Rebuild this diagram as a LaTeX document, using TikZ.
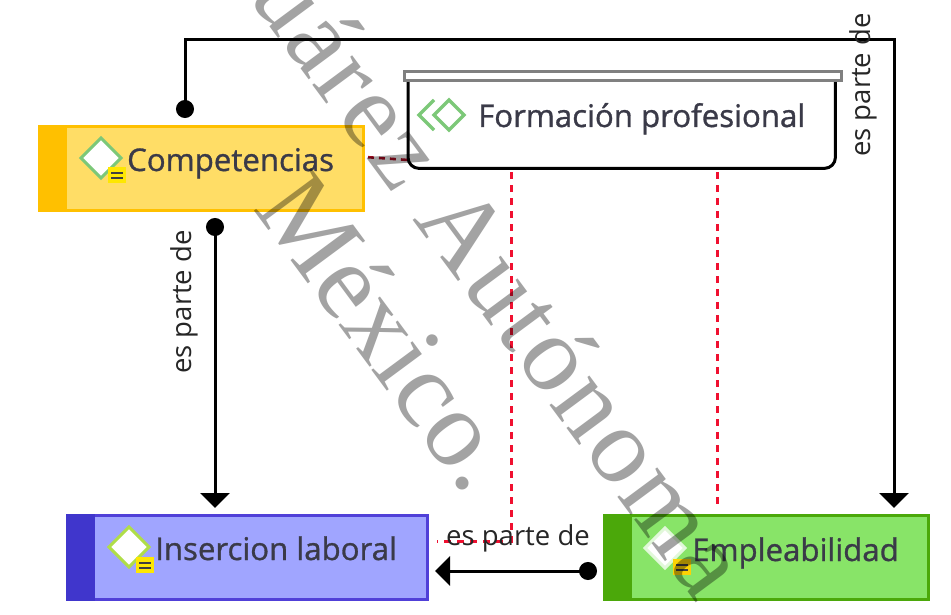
\documentclass[tikz,border=0pt]{standalone}
\usepackage{fontspec}
\setmainfont{Open Sans}
\newfontfamily\wmfont{Liberation Serif}
\newfontfamily\wmfontsp[LetterSpace=3]{Liberation Serif}
\newfontfamily\titlefont[FakeBold=1]{Open Sans}
\usetikzlibrary{arrows.meta,calc}
\definecolor{compfill}{HTML}{FFDD66}
\definecolor{compband}{HTML}{FFC000}
\definecolor{insfill}{HTML}{A0A5FF}
\definecolor{insband}{HTML}{4036CC}
\definecolor{insline}{HTML}{5040D8}
\definecolor{empfill}{HTML}{88E468}
\definecolor{empband}{HTML}{4BA80A}
\definecolor{titlecol}{HTML}{3A3A48}
\definecolor{relred}{HTML}{F01030}
\definecolor{diamondgreen}{HTML}{7CC878}
\tikzset{
  x=1pt,y=-1pt,
  concept/.style={draw=#1,line width=3pt,minimum height=84pt,inner sep=0pt,anchor=north west},
  band/.style={fill=#1,draw=none,inner sep=0pt,outer sep=0pt,minimum height=87pt,anchor=north west,minimum width=29pt},
  title/.style={font=\titlefont\fontsize{31.2}{34}\selectfont,text=titlecol,anchor=base west,inner sep=0pt},
  rel/.style={draw=black,line width=3pt,{Circle[length=18pt,width=18pt]}-{Triangle[length=15pt,width=29pt]},shorten >=6pt},
  linkdash/.style={draw=relred,line width=3pt,dash pattern=on 7pt off 6pt},
  rellabel/.style={font=\fontsize{27.5}{30}\selectfont,text=black!85,inner sep=0pt},
  wm/.style={text=black!36,rotate=-53.5,inner sep=0pt,blend mode=multiply},
}
\newcommand{\conceptmark}[3]{%
  \draw[fill=white,draw=#3,line width=3pt] (#1-20,#2)--(#1,#2-20)--(#1+20,#2)--(#1,#2+20)--cycle;
}
\newcommand{\notebadge}[3]{%
  \fill[#3] (#1-9,#2-8) rectangle (#1+9,#2+8);
  \fill[black!75] (#1-6,#2-3) rectangle (#1+6,#2-1);
  \fill[black!75] (#1-6,#2+2) rectangle (#1+6,#2+4);
}
\begin{document}
\begin{tikzpicture}
\useasboundingbox (0,0) rectangle (951,615);
\clip (0,0) rectangle (951,615);
\fill[white] (0,0) rectangle (951,615);

% concept boxes
\node[concept=compband,fill=compfill,minimum width=324pt] (comp) at (38,125) {};
\node[band=compband] (compb) at (38,125) {};
\node[concept=insline,fill=insfill,minimum width=360pt] (ins) at (66,514) {};
\node[band=insband] (insb) at (66,514) {};
\node[concept=empband,fill=empfill,minimum width=324pt] (emp) at (603,514) {};
\node[band=empband] (empb) at (603,514) {};

% Formacion profesional box
\coordinate (fnw) at (408,82);
\node[inner sep=0pt,minimum width=427pt,minimum height=86pt,anchor=north west] (form) at (fnw) {};
\draw[black,line width=3pt,rounded corners=11pt] (form.north west)--(form.south west)--(form.south east)--(form.north east);
\node[draw=black!50,fill=white,line width=3pt,minimum width=437pt,minimum height=9pt,inner sep=0pt,anchor=north west] (formbar) at (403,70) {};

% dashed links
\coordinate (e1) at (511,541);
\draw[linkdash,shorten <=4pt,shorten >=8pt] (form.south -| e1) -- (e1) -- (ins.east |- e1);
\coordinate (e2) at (717,514);
\draw[linkdash,shorten <=4pt,shorten >=4pt] (form.south -| e2) -- (emp.north -| e2);
\draw[draw=relred!70!black,line width=2.6pt,dash pattern=on 6pt off 5pt,shorten <=3pt] (comp.east |- 0,157) -- (form.west |- 0,160);

% part-of relations
\coordinate (c1) at (185,118);
\coordinate (c2) at (894,40);
\coordinate (c3) at (215,218);
\coordinate (c4) at (597,571);
\draw[rel] (c1) |- (c2) -- (emp.north -| c2);
\draw[rel] (c3) -- (ins.north -| c3);
\draw[rel] (c4) -- (ins.east |- c4);
\node[rellabel,rotate=90] (l1) at (184,302) {es parte de};
\node[rellabel,rotate=90] (l2) at (863,85) {es parte de};
\node[rellabel] (l3) at (518,538) {es parte de};

% icons and titles
\conceptmark{101}{158}{diamondgreen}
\notebadge{117}{175}{yellow!90!orange}
\node[title] (t1) at (127,171) {Competencias};
\conceptmark{129}{547}{diamondgreen!60!yellow}
\notebadge{145}{565}{yellow!90!orange}
\node[title] (t2) at (155,560) {Insercion laboral};
\conceptmark{665}{548}{white!75!empfill}
\notebadge{682}{567}{yellow!70!orange}
\node[title] (t3) at (692,561) {Empleabilidad};
\draw[diamondgreen,line width=3.5pt] (434,100)--(419,115)--(434,130);
\draw[diamondgreen,line width=3.5pt,fill=white] (449,100)--(464,115)--(449,130)--(434,115)--cycle;
\node[title] (t4) at (478,127) {Formación profesional};

% watermark
\node[wm,font=\wmfontsp\fontsize{108}{108}\selectfont,anchor=base east] (w1) at (697,604) {Juárez Autónoma};
\node[wm,font=\wmfont\fontsize{109}{109}\selectfont,anchor=base west] (w2) at (252,208) {México.};
\end{tikzpicture}
\end{document}
